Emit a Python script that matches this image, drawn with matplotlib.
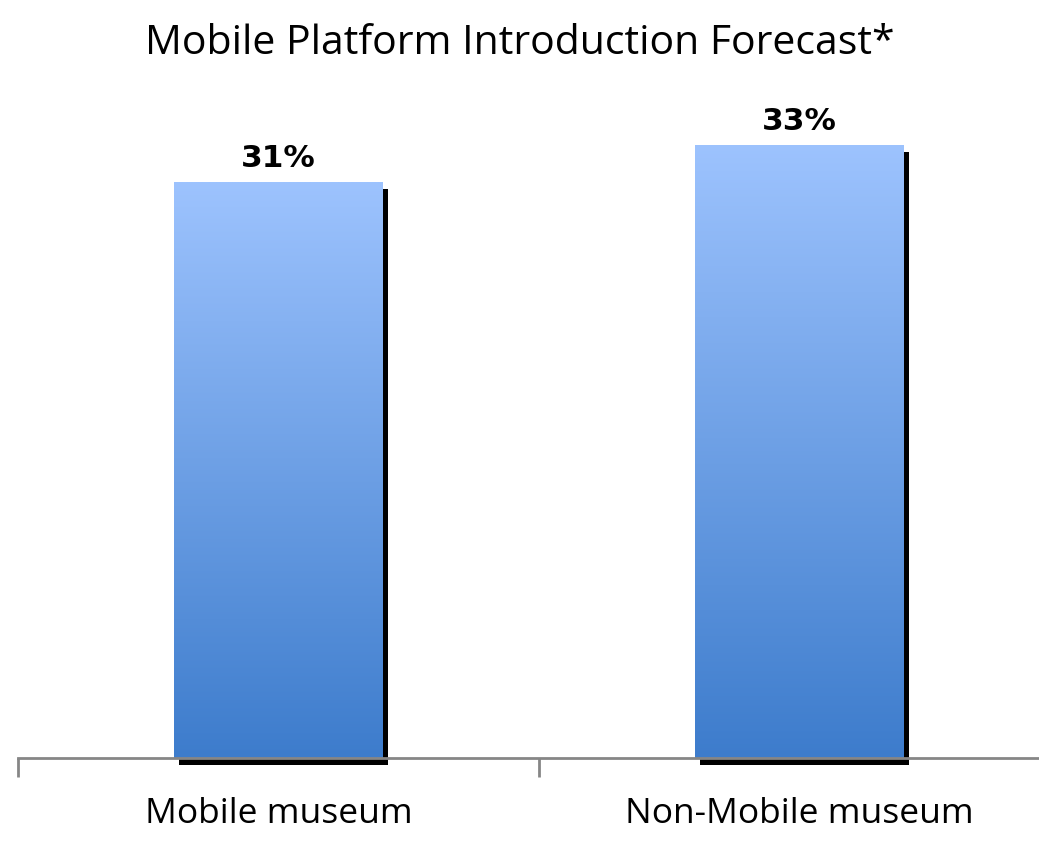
import numpy as np
import matplotlib.pyplot as plt
import matplotlib.transforms as mtransforms
from matplotlib.colors import LinearSegmentedColormap

categories = ['Mobile museum', 'Non-Mobile museum']
values = [31, 33]
value_labels = ['31%', '33%']

fig = plt.figure(figsize=(10.39, 8.45), dpi=100)
ax = fig.add_axes([18 / 1039, (845 - 759) / 845, 1042 / 1039, 680 / 845])
ax.set_xlim(-0.5, 1.5)
ax.set_ylim(0, 680 / 18.58)

grad = LinearSegmentedColormap.from_list('barfill', ['#3d7ccc', '#9dc3fe'])
x = np.arange(len(values))
width = 0.4

# shadow bars, shifted a few pixels right and down
shadow_tr = mtransforms.offset_copy(ax.transData, fig=fig, x=5, y=-7, units='dots')
ax.bar(x, values, width, color='black', transform=shadow_tr, zorder=1, clip_on=False)

bars = ax.bar(x, values, width, color='none', zorder=2)
for b, v, lab in zip(bars, values, value_labels):
    x0 = b.get_x()
    img = ax.imshow(np.linspace(0, 1, 256).reshape(-1, 1), cmap=grad, origin='lower',
                    extent=[x0, x0 + b.get_width(), 0, v], aspect='auto', zorder=2)
    img.set_clip_path(b)
    ax.text(b.get_x() + b.get_width() / 2, v + 0.55, lab, ha='center', va='bottom',
            fontsize=22.5, fontweight='bold', family='DejaVu Sans')
ax.set_xlim(-0.5, 1.5)
ax.set_ylim(0, 680 / 18.58)

for s in ['top', 'right', 'left']:
    ax.spines[s].set_visible(False)
ax.spines['bottom'].set_color('#868686')
ax.spines['bottom'].set_linewidth(2)
ax.spines['bottom'].set_zorder(3)
ax.set_yticks([])
ax.set_xticks([-0.5, 0.5, 1.5])
ax.set_xticklabels([])
ax.tick_params(axis='x', direction='out', length=14, width=2, color='#868686')
for xi, c in zip(x, categories):
    ax.text(xi, -2.95, c, ha='center', va='center', fontsize=25.5, family='Open Sans')

fig.text(0.5, 1 - 44 / 845, 'Mobile Platform Introduction Forecast*', ha='center',
         va='center', fontsize=29.5, family='Open Sans')

fig.savefig('out.png', dpi=100)
